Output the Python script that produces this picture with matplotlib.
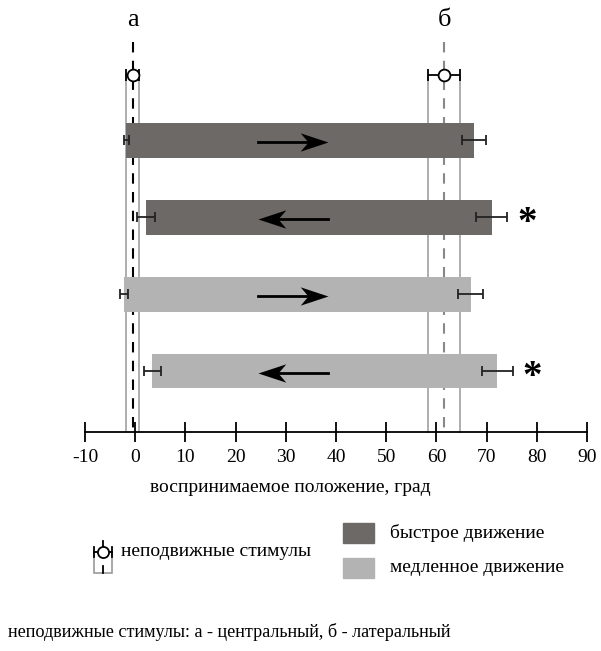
import matplotlib
matplotlib.use('Agg')
import matplotlib.pyplot as plt
import numpy as np
from matplotlib.patches import Rectangle
from matplotlib.path import Path

plt.rcParams['font.family'] = ['Liberation Serif', 'DejaVu Serif']

# stationary stimuli (centre, spread)
stim_labels = ['а', 'б']
stim_pos = [-0.5, 61.6]
stim_err = [1.3, 3.2]

# moving stimuli: bar start / end with errors
bar_left = [-1.8, 2.1, -2.2, 3.4]
bar_left_err = [0.5, 1.8, 0.8, 1.7]
bar_right = [67.5, 71.0, 66.8, 72.1]
bar_right_err = [2.4, 3.1, 2.4, 3.1]
bar_speed = ['fast', 'fast', 'slow', 'slow']
bar_dir = [1, -1, 1, -1]
bar_sig = [False, True, False, True]

arrow_from = 24.5
arrow_to = 38.5
ticks = np.arange(-10, 100, 10)

colors = {'fast': '#6d6966', 'slow': '#b3b3b3'}
legend_names = {'fast': 'быстрое движение', 'slow': 'медленное движение'}

W, H = 601, 651
fig = plt.figure(figsize=(W / 100, H / 100), dpi=100)
ax = fig.add_axes([0, 0, 1, 1])

# x: 0 deg at px 135.2, 5.02 px per deg; y: rows of 77 px, row 1 at px 140
x0, kx = 135.2, 5.02
y0, ky = 140, 77
ax.set_xlim(-x0 / kx, (W - x0) / kx)
ax.set_ylim(1 + (H - y0) / ky, 1 - y0 / ky)
stim_row = 1 + (75 - y0) / ky
axis_row = 1 + (432 - y0) / ky
top_row = 1 + (42 - y0) / ky
rows = np.arange(1, len(bar_left) + 1)
bar_h = 35 / ky

# barbed arrow head, tip at the origin
head_r = Path([(0, 0), (-1, 0.33), (-0.72, 0), (-1, -0.33), (0, 0)],
              [Path.MOVETO, Path.LINETO, Path.LINETO, Path.LINETO, Path.CLOSEPOLY])
head_l = Path([(0, 0), (1, 0.33), (0.72, 0), (1, -0.33), (0, 0)],
              [Path.MOVETO, Path.LINETO, Path.LINETO, Path.LINETO, Path.CLOSEPOLY])

# stationary stimulus guides
dash_cols = ['black', '#888888']
for p, e, lab, dc in zip(stim_pos, stim_err, stim_labels, dash_cols):
    ax.plot([p, p], [top_row, axis_row], ls=(0, (5, 4)), color=dc, lw=1.5, zorder=1)
    for s in (-1, 1):
        ax.plot([p + s * e, p + s * e], [stim_row, axis_row], color='#a8a8a8', lw=1.3, zorder=1)
    ax.errorbar(p, stim_row, xerr=e, fmt='o', mfc='white', mec='black', mew=1.3, ms=8.5,
                ecolor='black', elinewidth=1.3, capsize=4, capthick=1.3, zorder=5)
    ax.text(p, 1 + (20 - y0) / ky, lab, ha='center', va='center', fontsize=19)

# bars
for r, l, le, rr, re, sp, d, sig in zip(rows, bar_left, bar_left_err, bar_right, bar_right_err,
                                        bar_speed, bar_dir, bar_sig):
    ax.barh(r, rr - l, left=l, height=bar_h, color=colors[sp], zorder=3)
    ax.errorbar([l, rr], [r, r], xerr=[le, re], fmt='none', ecolor='#222222', elinewidth=1.3,
                capsize=3.5, capthick=1.3, zorder=4)
    ay = r + 0.03
    if d > 0:
        ax.plot([arrow_from, arrow_to - 4], [ay, ay], color='black', lw=2, zorder=6)
        ax.plot([arrow_to], [ay], marker=head_r, ms=40, color='black', mew=0, zorder=7)
    else:
        ax.plot([arrow_from + 4, arrow_to], [ay, ay], color='black', lw=2, zorder=6)
        ax.plot([arrow_from], [ay], marker=head_l, ms=40, color='black', mew=0, zorder=7)
    if sig:
        ax.text(rr + 7.0, r + 0.09, '*', ha='center', va='center', fontsize=28, fontweight='bold')

# x axis
for s in ['top', 'right', 'left']:
    ax.spines[s].set_visible(False)
ax.spines['bottom'].set_position(('data', axis_row))
ax.spines['bottom'].set_bounds(-10, 90)
ax.spines['bottom'].set_linewidth(1.3)
ax.set_xticks(ticks)
ax.set_xticklabels([str(t) for t in ticks], fontsize=14)
ax.tick_params(axis='x', direction='inout', length=14, width=1.3, pad=5)
ax.set_yticks([])
ax.text(30.8, 1 + (488 - y0) / ky, 'воспринимаемое положение, град', ha='center', va='center',
        fontsize=14)


# legend (figure pixel coordinates)
def fx(px):
    return px / W


def fy(py):
    return 1 - py / H


for i, sp in enumerate(['fast', 'slow']):
    top = 523 + i * 35
    fig.patches.append(Rectangle((fx(343), fy(top + 20)), 31 / W, 20 / H, transform=fig.transFigure,
                                 color=colors[sp]))
    fig.text(fx(390), fy(top + 10), legend_names[sp], va='center', fontsize=14)

fig.patches.append(Rectangle((fx(94), fy(573)), 18 / W, 21 / H, transform=fig.transFigure,
                             fill=False, ec='#999999', lw=1.2))
fig.lines.append(plt.Line2D([fx(103), fx(103)], [fy(541), fy(552)], transform=fig.transFigure,
                            color='black', lw=1.3))
fig.lines.append(plt.Line2D([fx(103), fx(103)], [fy(566), fy(573)], transform=fig.transFigure,
                            color='black', lw=1.3))
fig.lines.append(plt.Line2D([fx(94), fx(112)], [fy(552), fy(552)], transform=fig.transFigure,
                            color='black', lw=1.3))
for cx in (94, 112):
    fig.lines.append(plt.Line2D([fx(cx), fx(cx)], [fy(547), fy(557)], transform=fig.transFigure,
                                color='black', lw=1.3))
fig.lines.append(plt.Line2D([fx(103)], [fy(552)], transform=fig.transFigure, marker='o', ms=8,
                            mfc='white', mec='black', mew=1.3))
fig.text(fx(121), fy(551), 'неподвижные стимулы', va='center', fontsize=14)

fig.text(fx(8), fy(632), 'неподвижные стимулы: а - центральный, б - латеральный', va='center',
         fontsize=13.1)

fig.savefig('out.png', dpi=100, facecolor='white')
